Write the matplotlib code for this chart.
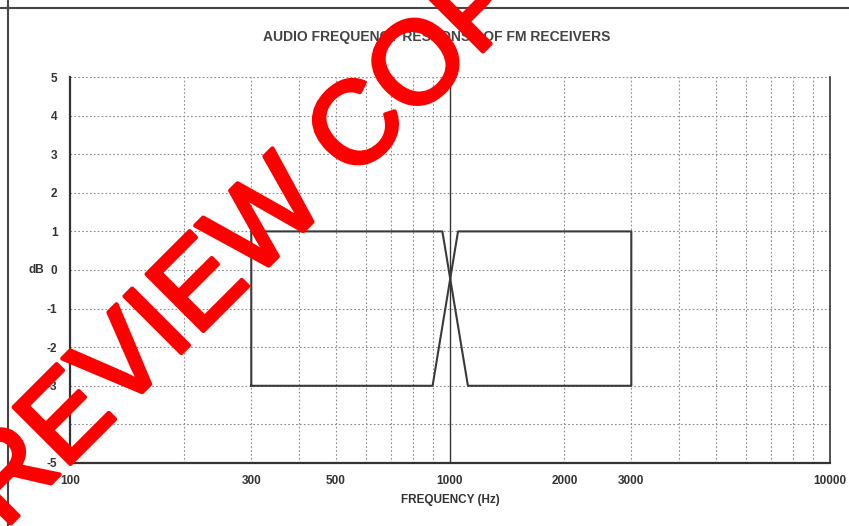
import numpy as np
import matplotlib
matplotlib.use("Agg")
import matplotlib.pyplot as plt
import matplotlib.patheffects as pe
from matplotlib.lines import Line2D

# limit mask (Hz, dB), drawn as one closed outline
mask_freq = [300, 300, 955, 1115, 3000, 3000, 1050, 900, 300]
mask_db = [-3, 1, 1, -3, -3, 1, 1, -3, -3]

xtick_vals = [100, 300, 500, 1000, 2000, 3000, 10000]
xtick_labels = ["100", "300", "500", "1000", "2000", "3000", "10000"]
ytick_vals = [-5, -4, -3, -2, -1, 0, 1, 2, 3, 4, 5]

plt.rcParams['font.family'] = ['Liberation Sans', 'DejaVu Sans']
plt.rcParams['axes.unicode_minus'] = False

fig = plt.figure(figsize=(8.49, 5.26), dpi=100)
ax = fig.add_axes([0.0824, 0.1198, 0.8952, 0.7338])

ax.set_xscale('log')
ax.set_xlim(100, 10000)
ax.set_ylim(-5, 5)

# grid: dotted minor verticals, dotted horizontals, solid 1 kHz line
grid_freqs = [f * d for d in (100, 1000) for f in range(2, 10)]
for f in grid_freqs:
    ax.axvline(f, color='#8a8a8a', lw=0.8, ls=(0, (1.5, 2)), zorder=1)
for y in ytick_vals[1:]:
    ax.axhline(y, color='#8a8a8a', lw=0.8, ls=(0, (1.5, 2)), zorder=1)
ax.axvline(1000, color='#333333', lw=1.0, zorder=2)

ax.plot(mask_freq, mask_db, color='#3a3a3a', lw=1.5, zorder=3)

ax.set_xticks(xtick_vals)
ax.set_xticklabels(xtick_labels)
ax.xaxis.set_minor_locator(matplotlib.ticker.NullLocator())
ax.set_yticks(ytick_vals)
ax.tick_params(length=0, labelsize=8.5, colors='#333333')
ax.tick_params(axis='x', pad=9)
ax.tick_params(axis='y', pad=9)
for lab in ax.get_xticklabels() + ax.get_yticklabels():
    lab.set_fontweight('bold')

ax.spines['top'].set_visible(False)
for s in ('left', 'bottom', 'right'):
    ax.spines[s].set_color('#333333')
ax.spines['left'].set_linewidth(1.6)
ax.spines['bottom'].set_linewidth(1.6)
ax.spines['right'].set_linewidth(1.2)

ax.set_xlabel('FREQUENCY (Hz)', fontsize=8.5, fontweight='bold', color='#333333', labelpad=5)
ax.text(-0.034, 0.5, 'dB', transform=ax.transAxes, ha='right', va='center',
        fontsize=8.5, fontweight='bold', color='#333333')
fig.text(0.514, 0.930, 'AUDIO FREQUENCY RESPONSE OF FM RECEIVERS', fontsize=10,
         fontweight='bold', color='#444444', ha='center', va='center')

# page border
fig.add_artist(Line2D([0, 1], [1 - 8 / 526, 1 - 8 / 526], color='#444444', lw=1.5))
fig.add_artist(Line2D([8 / 849, 8 / 849], [0, 1], color='#444444', lw=1.5))

# watermark
fig.text(0.322, 0.586, 'REVIEW COPY', color='#ff0000', fontsize=84,
         rotation=45, rotation_mode='anchor', ha='center', va='center', zorder=10,
         path_effects=[pe.withStroke(linewidth=3, foreground='#ff0000')])

fig.savefig('out.png', dpi=100)
